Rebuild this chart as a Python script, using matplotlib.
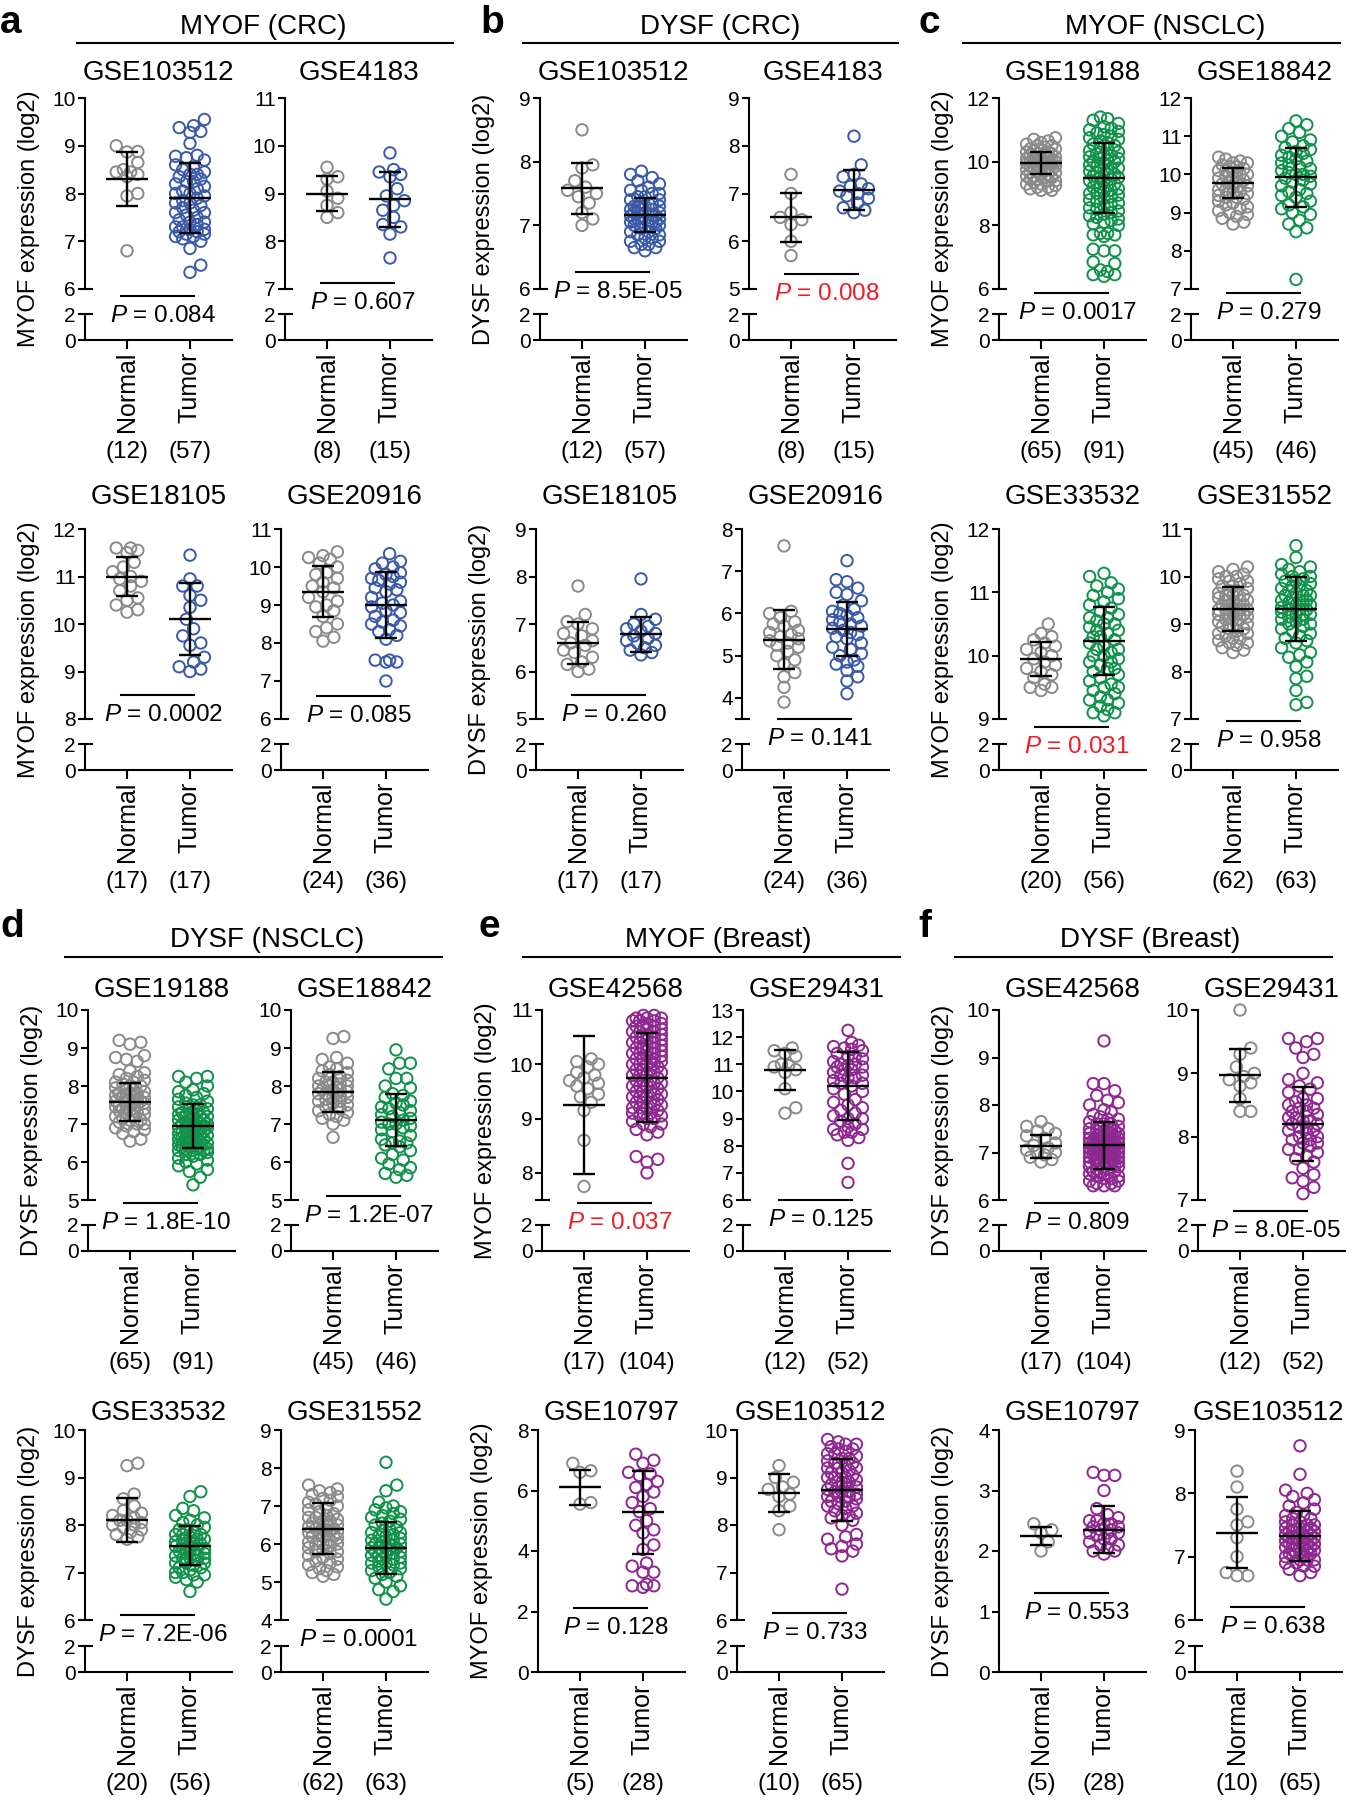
import numpy as np
import matplotlib.pyplot as plt
from matplotlib.lines import Line2D
from matplotlib.transforms import blended_transform_factory as blend

plt.rcParams['font.family'] = ['Liberation Sans', 'DejaVu Sans']
plt.rcParams['mathtext.fontset'] = 'custom'
plt.rcParams['mathtext.it'] = 'Liberation Sans:italic'
plt.rcParams['mathtext.rm'] = 'Liberation Sans'
plt.rcParams['ytick.labelsize'] = 15
plt.rcParams['xtick.labelsize'] = 18

# ---------------- data ----------------
panel_letters = ['a', 'b', 'c', 'd', 'e', 'f']
panel_titles = ['MYOF (CRC)', 'DYSF (CRC)', 'MYOF (NSCLC)',
                'DYSF (NSCLC)', 'MYOF (Breast)', 'DYSF (Breast)']
panel_ylabels = ['MYOF expression (log2)', 'DYSF expression (log2)', 'MYOF expression (log2)',
                 'DYSF expression (log2)', 'MYOF expression (log2)', 'DYSF expression (log2)']

datasets = ['GSE103512', 'GSE4183', 'GSE18105', 'GSE20916',
            'GSE103512', 'GSE4183', 'GSE18105', 'GSE20916',
            'GSE19188', 'GSE18842', 'GSE33532', 'GSE31552',
            'GSE19188', 'GSE18842', 'GSE33532', 'GSE31552',
            'GSE42568', 'GSE29431', 'GSE10797', 'GSE103512',
            'GSE42568', 'GSE29431', 'GSE10797', 'GSE103512']

n_normal = [12, 8, 17, 24, 12, 8, 17, 24, 65, 45, 20, 62, 65, 45, 20, 62, 17, 12, 5, 10, 17, 12, 5, 10]
n_tumor = [57, 15, 17, 36, 57, 15, 17, 36, 91, 46, 56, 63, 91, 46, 56, 63, 104, 52, 28, 65, 104, 52, 28, 65]

p_values = ['0.084', '0.607', '0.0002', '0.085',
            '8.5E-05', '0.008', '0.260', '0.141',
            '0.0017', '0.279', '0.031', '0.958',
            '1.8E-10', '1.2E-07', '7.2E-06', '0.0001',
            '0.037', '0.125', '0.128', '0.733',
            '0.809', '8.0E-05', '0.553', '0.638']
p_significant = [False, False, False, False, False, True, False, False,
                 False, False, True, False, False, False, False, False,
                 True, False, False, False, False, False, False, False]

# axis ranges (lower bound, upper bound, tick step); lower bound 0 means no break
y_lo = [6, 7, 8, 6, 6, 5, 5, 3.5, 6, 7, 9, 7, 5, 5, 6, 4, 7.5, 6, 0, 6, 6, 7, 0, 6]
y_hi = [10, 11, 12, 11, 9, 9, 9, 8, 12, 12, 12, 11, 10, 10, 10, 9, 11, 13, 8, 10, 10, 10, 4, 9]
y_step = [1, 1, 1, 1, 1, 1, 1, 1, 2, 1, 1, 1, 1, 1, 1, 1, 1, 1, 2, 1, 1, 1, 1, 1]

mean_normal = [8.3, 9.0, 11.0, 9.35, 7.58, 6.5, 6.6, 5.38, 9.95, 9.78, 9.95, 9.32,
               7.58, 7.85, 8.1, 6.4, 9.25, 10.8, 6.1, 8.67, 7.13, 8.97, 2.25, 7.38]
sd_normal = [0.565, 0.36, 0.415, 0.675, 0.395, 0.52, 0.435, 0.69, 0.35, 0.395, 0.27, 0.465,
             0.5, 0.53, 0.46, 0.67, 1.275, 0.74, 0.575, 0.4, 0.24, 0.415, 0.15, 0.565]
mean_tumor = [7.9, 8.88, 10.1, 9.0, 7.16, 7.08, 6.78, 5.64, 9.5, 9.92, 10.23, 9.32,
              6.95, 7.1, 7.56, 5.9, 9.75, 10.2, 5.28, 8.73, 7.15, 8.2, 2.35, 7.33]
sd_tumor = [0.735, 0.575, 0.76, 0.86, 0.265, 0.42, 0.375, 0.64, 1.1, 0.775, 0.54, 0.675,
            0.58, 0.69, 0.41, 0.69, 0.82, 1.24, 1.375, 0.65, 0.5, 0.59, 0.39, 0.395]

a_normal = [
    [9.0, 8.88, 8.87, 8.65, 8.5, 8.45, 8.45, 8.4, 8.35, 8.0, 7.95, 6.8],
    [9.55, 9.35, 9.3, 9.05, 8.9, 8.75, 8.6, 8.5],
    [11.6, 11.6, 11.55, 11.5, 11.3, 11.2, 11.1, 11.0, 10.95, 10.9, 10.8, 10.7, 10.55, 10.5, 10.4, 10.3, 10.25],
    [10.4, 10.3, 10.25, 10.2, 10.1, 10.0, 9.85, 9.8, 9.7, 9.6, 9.5, 9.45, 9.35, 9.2, 9.1, 9.0, 8.95, 8.85,
     8.7, 8.5, 8.4, 8.3, 8.15, 8.05],
]
a_tumor = [
    [9.55, 9.42, 9.38, 9.3, 9.28, 9.05, 8.8, 8.78, 8.75, 8.7, 8.6, 8.55, 8.5, 8.45, 8.4, 8.4, 8.35, 8.3,
     8.25, 8.25, 8.2, 8.15, 8.1, 8.05, 8.0, 8.0, 7.95, 7.9, 7.85, 7.8, 7.8, 7.75, 7.7, 7.65, 7.6, 7.6, 7.55,
     7.5, 7.45, 7.4, 7.4, 7.35, 7.3, 7.3, 7.25, 7.25, 7.2, 7.2, 7.15, 7.15, 7.1, 7.1, 7.05, 7.0, 6.85, 6.5, 6.35],
    [9.85, 9.5, 9.45, 9.4, 9.35, 9.1, 8.95, 8.85, 8.75, 8.65, 8.5, 8.35, 8.3, 8.15, 7.65],
    [11.45, 10.95, 10.8, 10.8, 10.6, 10.5, 10.35, 10.1, 9.9, 9.75, 9.6, 9.55, 9.3, 9.2, 9.1, 9.05, 9.0],
    [10.35, 10.15, 10.1, 10.0, 9.95, 9.85, 9.8, 9.75, 9.7, 9.65, 9.6, 9.55, 9.45, 9.4, 9.35, 9.2, 9.1, 9.05,
     9.0, 8.95, 8.85, 8.8, 8.7, 8.6, 8.55, 8.5, 8.45, 8.35, 8.3, 8.2, 8.1, 7.55, 7.55, 7.5, 7.5, 7.0],
]
b_normal = [
    [8.5, 7.95, 7.9, 7.7, 7.6, 7.55, 7.5, 7.45, 7.35, 7.2, 7.1, 7.0],
    [7.4, 7.0, 6.6, 6.5, 6.45, 6.35, 6.0, 5.7],
    [7.8, 7.2, 7.05, 7.0, 6.9, 6.8, 6.75, 6.65, 6.6, 6.55, 6.45, 6.4, 6.3, 6.2, 6.15, 6.05, 6.0],
    [7.6, 6.05, 6.0, 5.9, 5.8, 5.75, 5.7, 5.6, 5.55, 5.5, 5.45, 5.4, 5.35, 5.3, 5.25, 5.2, 5.1, 5.0, 4.9,
     4.8, 4.6, 4.5, 4.25, 3.9],
]
b_tumor = [
    [7.85, 7.8, 7.75, 7.7, 7.65, 7.6, 7.55, 7.55, 7.5, 7.5, 7.45, 7.45, 7.4, 7.4, 7.35, 7.35, 7.3, 7.3, 7.3,
     7.3, 7.25, 7.25, 7.25, 7.2, 7.2, 7.2, 7.2, 7.15, 7.15, 7.15, 7.15, 7.1, 7.1, 7.1, 7.1, 7.05, 7.05, 7.05,
     7.05, 7.0, 7.0, 7.0, 6.95, 6.95, 6.9, 6.9, 6.85, 6.85, 6.8, 6.8, 6.75, 6.75, 6.7, 6.7, 6.65, 6.65, 6.6],
    [8.2, 7.6, 7.4, 7.35, 7.2, 7.15, 7.1, 7.05, 7.0, 6.95, 6.9, 6.8, 6.7, 6.65, 6.6],
    [7.95, 7.2, 7.1, 7.0, 6.95, 6.9, 6.85, 6.8, 6.75, 6.7, 6.65, 6.6, 6.55, 6.5, 6.45, 6.4, 6.35],
    [7.25, 6.8, 6.75, 6.6, 6.5, 6.45, 6.3, 6.2, 6.1, 6.05, 6.0, 5.95, 5.9, 5.85, 5.8, 5.75, 5.7, 5.65, 5.6,
     5.55, 5.5, 5.45, 5.4, 5.3, 5.2, 5.15, 5.05, 5.0, 4.9, 4.85, 4.8, 4.75, 4.65, 4.5, 4.4, 4.1],
]
c_normal = [
    [10.75, 10.7, 10.65, 10.6, 10.55, 10.5, 10.5, 10.45, 10.4, 10.4, 10.35, 10.35, 10.3, 10.3, 10.25, 10.25,
     10.2, 10.2, 10.15, 10.15, 10.1, 10.1, 10.1, 10.05, 10.05, 10.0, 10.0, 10.0, 10.0, 9.95, 9.95, 9.95, 9.9,
     9.9, 9.9, 9.85, 9.85, 9.8, 9.8, 9.8, 9.75, 9.75, 9.7, 9.7, 9.65, 9.65, 9.6, 9.6, 9.55, 9.55, 9.5, 9.5,
     9.45, 9.45, 9.4, 9.4, 9.35, 9.3, 9.3, 9.25, 9.2, 9.2, 9.15, 9.1, 9.1],
    [10.45, 10.4, 10.35, 10.3, 10.3, 10.25, 10.2, 10.2, 10.15, 10.1, 10.1, 10.05, 10.0, 10.0, 9.95, 9.9, 9.9,
     9.85, 9.8, 9.8, 9.75, 9.7, 9.7, 9.65, 9.6, 9.6, 9.55, 9.5, 9.5, 9.45, 9.4, 9.4, 9.35, 9.3, 9.25, 9.2,
     9.15, 9.1, 9.05, 9.0, 8.95, 8.9, 8.85, 8.75, 8.7],
    [10.5, 10.35, 10.3, 10.25, 10.2, 10.15, 10.1, 10.05, 10.0, 9.95, 9.9, 9.85, 9.8, 9.75, 9.7, 9.65, 9.55,
     9.5, 9.5, 9.45],
    [10.2, 10.15, 10.1, 10.05, 10.0, 10.0, 9.95, 9.9, 9.9, 9.85, 9.8, 9.8, 9.75, 9.7, 9.7, 9.65, 9.6, 9.6,
     9.6, 9.55, 9.5, 9.5, 9.5, 9.45, 9.4, 9.4, 9.4, 9.4, 9.35, 9.3, 9.3, 9.3, 9.3, 9.25, 9.2, 9.2, 9.2, 9.2,
     9.15, 9.1, 9.1, 9.1, 9.05, 9.0, 9.0, 9.0, 8.95, 8.9, 8.9, 8.85, 8.8, 8.8, 8.75, 8.7, 8.7, 8.65, 8.6,
     8.6, 8.55, 8.5, 8.45, 8.4],
]
c_tumor = [
    [11.4, 11.35, 11.3, 11.2, 11.1, 11.05, 11.0, 10.95, 10.9, 10.85, 10.8, 10.75, 10.7, 10.65, 10.6, 10.55,
     10.5, 10.45, 10.4, 10.35, 10.3, 10.25, 10.2, 10.2, 10.15, 10.1, 10.1, 10.05, 10.0, 10.0, 9.95, 9.9,
     9.85, 9.8, 9.8, 9.75, 9.7, 9.65, 9.6, 9.6, 9.55, 9.5, 9.5, 9.45, 9.4, 9.4, 9.35, 9.3, 9.25, 9.2, 9.2,
     9.15, 9.1, 9.05, 9.0, 9.0, 8.95, 8.9, 8.85, 8.8, 8.75, 8.7, 8.65, 8.6, 8.55, 8.5, 8.45, 8.4, 8.35, 8.3,
     8.25, 8.2, 8.15, 8.1, 8.05, 8.0, 7.75, 7.75, 7.7, 7.7, 7.65, 7.25, 7.2, 7.2, 6.85, 6.8, 6.6, 6.55,
     6.45, 6.45, 6.4],
    [11.4, 11.3, 11.2, 11.1, 11.0, 10.9, 10.85, 10.75, 10.7, 10.65, 10.6, 10.55, 10.5, 10.45, 10.4, 10.35,
     10.3, 10.25, 10.2, 10.15, 10.1, 10.05, 10.0, 10.0, 9.95, 9.9, 9.85, 9.8, 9.75, 9.7, 9.6, 9.55, 9.5,
     9.45, 9.4, 9.3, 9.2, 9.15, 9.1, 9.0, 8.95, 8.8, 8.7, 8.6, 8.5, 7.25],
    [11.3, 11.25, 11.15, 11.1, 11.05, 11.0, 10.95, 10.9, 10.85, 10.8, 10.75, 10.7, 10.65, 10.6, 10.6, 10.55,
     10.5, 10.5, 10.45, 10.4, 10.4, 10.35, 10.3, 10.3, 10.25, 10.2, 10.15, 10.1, 10.1, 10.05, 10.0, 10.0,
     9.95, 9.9, 9.9, 9.85, 9.8, 9.8, 9.75, 9.7, 9.65, 9.6, 9.55, 9.5, 9.5, 9.45, 9.4, 9.35, 9.3, 9.3, 9.25,
     9.2, 9.15, 9.1, 9.1, 9.05],
    [10.65, 10.4, 10.25, 10.2, 10.15, 10.1, 10.05, 10.0, 10.0, 9.95, 9.9, 9.9, 9.85, 9.8, 9.8, 9.75, 9.7,
     9.7, 9.65, 9.6, 9.6, 9.6, 9.55, 9.5, 9.5, 9.5, 9.45, 9.4, 9.4, 9.4, 9.35, 9.3, 9.3, 9.3, 9.25, 9.2,
     9.2, 9.2, 9.15, 9.1, 9.1, 9.05, 9.0, 9.0, 8.95, 8.9, 8.85, 8.8, 8.75, 8.7, 8.65, 8.6, 8.5, 8.4, 8.35,
     8.3, 8.2, 8.1, 7.9, 7.85, 7.6, 7.35, 7.3],
]
d_normal = [
    [9.2, 9.15, 9.1, 8.8, 8.75, 8.7, 8.65, 8.4, 8.35, 8.3, 8.25, 8.2, 8.15, 8.1, 8.1, 8.05, 8.0, 8.0, 7.95,
     7.9, 7.9, 7.85, 7.8, 7.8, 7.8, 7.75, 7.75, 7.7, 7.7, 7.7, 7.65, 7.65, 7.6, 7.6, 7.6, 7.55, 7.55, 7.5,
     7.5, 7.5, 7.45, 7.45, 7.4, 7.4, 7.4, 7.35, 7.35, 7.3, 7.3, 7.25, 7.2, 7.2, 7.15, 7.1, 7.1, 7.05, 7.0,
     7.0, 6.95, 6.9, 6.85, 6.8, 6.75, 6.6, 6.55],
    [9.3, 9.25, 8.75, 8.7, 8.6, 8.5, 8.45, 8.4, 8.35, 8.3, 8.25, 8.2, 8.15, 8.1, 8.1, 8.05, 8.0, 8.0, 8.0,
     7.95, 7.9, 7.9, 7.9, 7.85, 7.8, 7.8, 7.8, 7.75, 7.7, 7.7, 7.65, 7.6, 7.6, 7.55, 7.5, 7.45, 7.4, 7.35,
     7.3, 7.25, 7.2, 7.15, 7.1, 7.0, 6.65],
    [9.3, 9.25, 8.65, 8.55, 8.4, 8.3, 8.25, 8.2, 8.15, 8.1, 8.1, 8.05, 8.0, 8.0, 7.95, 7.9, 7.85, 7.8, 7.75, 7.7],
    [7.55, 7.45, 7.4, 7.35, 7.3, 7.25, 7.2, 7.15, 7.1, 7.05, 7.0, 6.95, 6.9, 6.85, 6.8, 6.75, 6.7, 6.7,
     6.65, 6.6, 6.6, 6.55, 6.5, 6.5, 6.5, 6.45, 6.4, 6.4, 6.4, 6.35, 6.3, 6.3, 6.3, 6.25, 6.2, 6.2, 6.2,
     6.15, 6.1, 6.1, 6.05, 6.0, 6.0, 6.0, 5.95, 5.9, 5.85, 5.8, 5.8, 5.75, 5.7, 5.65, 5.6, 5.55, 5.5, 5.45,
     5.4, 5.35, 5.3, 5.25, 5.2, 5.15],
]
d_tumor = [
    [8.25, 8.25, 8.2, 8.1, 8.0, 7.9, 7.85, 7.8, 7.75, 7.7, 7.65, 7.6, 7.55, 7.5, 7.5, 7.45, 7.4, 7.4, 7.35,
     7.3, 7.3, 7.3, 7.25, 7.2, 7.2, 7.2, 7.15, 7.1, 7.1, 7.1, 7.1, 7.05, 7.0, 7.0, 7.0, 7.0, 6.95, 6.95,
     6.9, 6.9, 6.9, 6.9, 6.85, 6.85, 6.8, 6.8, 6.8, 6.75, 6.75, 6.7, 6.7, 6.7, 6.65, 6.65, 6.6, 6.6, 6.6,
     6.6, 6.55, 6.55, 6.5, 6.5, 6.5, 6.5, 6.45, 6.45, 6.45, 6.4, 6.4, 6.4, 6.35, 6.35, 6.35, 6.3, 6.3, 6.3,
     6.25, 6.2, 6.2, 6.15, 6.1, 6.05, 6.0, 5.95, 5.9, 5.8, 5.75, 5.6, 5.4, 7.0, 6.8],
    [8.95, 8.6, 8.6, 8.45, 8.2, 8.2, 8.0, 7.95, 7.8, 7.75, 7.7, 7.6, 7.55, 7.5, 7.45, 7.4, 7.35, 7.3, 7.25,
     7.2, 7.15, 7.1, 7.05, 7.0, 7.0, 6.95, 6.9, 6.85, 6.8, 6.7, 6.6, 6.55, 6.5, 6.5, 6.45, 6.4, 6.3, 6.2,
     6.1, 6.05, 5.95, 5.85, 5.8, 5.7, 5.65, 5.6],
    [8.7, 8.6, 8.35, 8.3, 8.2, 8.15, 8.1, 8.05, 8.0, 7.95, 7.9, 7.9, 7.85, 7.8, 7.8, 7.8, 7.75, 7.7, 7.7,
     7.7, 7.65, 7.65, 7.6, 7.6, 7.6, 7.55, 7.55, 7.5, 7.5, 7.5, 7.45, 7.45, 7.4, 7.4, 7.4, 7.35, 7.35, 7.3,
     7.3, 7.3, 7.25, 7.2, 7.2, 7.2, 7.15, 7.1, 7.1, 7.05, 7.0, 7.0, 6.95, 6.95, 6.9, 6.85, 6.8, 6.6],
    [8.15, 7.55, 7.4, 7.1, 7.0, 6.95, 6.9, 6.85, 6.8, 6.75, 6.7, 6.65, 6.6, 6.55, 6.5, 6.45, 6.4, 6.35,
     6.3, 6.3, 6.25, 6.2, 6.2, 6.15, 6.1, 6.1, 6.05, 6.0, 6.0, 6.0, 5.95, 5.95, 5.9, 5.9, 5.9, 5.85, 5.8,
     5.8, 5.8, 5.75, 5.7, 5.7, 5.7, 5.65, 5.6, 5.6, 5.55, 5.5, 5.5, 5.5, 5.45, 5.4, 5.35, 5.3, 5.25, 5.2,
     5.15, 5.1, 5.0, 4.9, 4.8, 4.75, 4.55],
]
e_normal = [
    [10.1, 10.05, 10.0, 9.95, 9.85, 9.8, 9.75, 9.7, 9.65, 9.6, 9.55, 9.45, 9.4, 9.3, 9.15, 8.6, 7.75],
    [11.6, 11.5, 11.4, 11.3, 11.0, 10.95, 10.9, 10.8, 10.7, 10.1, 9.4, 9.2],
    [6.9, 6.65, 6.6, 5.6, 5.55],
    [9.25, 9.0, 8.9, 8.8, 8.75, 8.65, 8.6, 8.4, 8.3, 7.9],
]
e_tumor = [
    [10.9, 10.9, 10.85, 10.85, 10.85, 10.8, 10.8, 10.8, 10.75, 10.75, 10.7, 10.7, 10.7, 10.65, 10.65, 10.6,
     10.6, 10.6, 10.55, 10.55, 10.5, 10.5, 10.5, 10.45, 10.45, 10.4, 10.4, 10.4, 10.35, 10.35, 10.3, 10.3,
     10.3, 10.25, 10.25, 10.2, 10.2, 10.2, 10.15, 10.15, 10.1, 10.1, 10.1, 10.05, 10.05, 10.0, 10.0, 10.0,
     10.0, 9.95, 9.9, 9.9, 9.9, 9.85, 9.85, 9.8, 9.8, 9.8, 9.75, 9.7, 9.7, 9.7, 9.65, 9.65, 9.6, 9.6, 9.6,
     9.55, 9.5, 9.5, 9.5, 9.45, 9.45, 9.4, 9.4, 9.4, 9.35, 9.3, 9.3, 9.3, 9.25, 9.25, 9.2, 9.2, 9.2, 9.15,
     9.1, 9.1, 9.1, 9.05, 9.05, 9.0, 9.0, 8.95, 8.9, 8.9, 8.85, 8.8, 8.75, 8.7, 8.3, 8.25, 8.2, 8.0],
    [12.25, 11.8, 11.7, 11.65, 11.6, 11.55, 11.5, 11.4, 11.3, 11.3, 11.2, 11.1, 11.0, 11.0, 10.95, 10.9,
     10.9, 10.8, 10.8, 10.7, 10.6, 10.6, 10.5, 10.5, 10.4, 10.3, 10.3, 10.2, 10.1, 10.0, 9.9, 9.7, 9.6,
     9.5, 9.4, 9.3, 9.2, 9.1, 9.0, 9.0, 8.9, 8.8, 8.7, 8.6, 8.6, 8.5, 8.5, 8.4, 8.3, 8.2, 7.35, 6.65],
    [7.2, 7.0, 6.9, 6.6, 6.55, 6.5, 6.3, 6.2, 6.1, 5.95, 5.8, 5.6, 5.4, 5.3, 5.0, 4.85, 4.7, 4.6, 4.2,
     4.05, 3.6, 3.5, 3.3, 3.3, 2.9, 2.85, 2.85, 2.8],
    [9.8, 9.75, 9.7, 9.7, 9.65, 9.6, 9.6, 9.55, 9.5, 9.5, 9.45, 9.4, 9.4, 9.35, 9.3, 9.3, 9.25, 9.2, 9.2,
     9.2, 9.15, 9.1, 9.1, 9.05, 9.0, 9.0, 8.95, 8.9, 8.9, 8.85, 8.8, 8.8, 8.8, 8.75, 8.7, 8.7, 8.7, 8.65,
     8.6, 8.6, 8.6, 8.55, 8.5, 8.5, 8.45, 8.4, 8.4, 8.35, 8.3, 8.25, 8.2, 8.2, 8.15, 8.1, 8.0, 7.8, 7.75,
     7.7, 7.6, 7.55, 7.5, 7.45, 7.35, 6.65, 9.0],
]
f_normal = [
    [7.65, 7.55, 7.5, 7.45, 7.4, 7.35, 7.3, 7.2, 7.15, 7.1, 7.05, 7.0, 7.0, 6.95, 6.9, 6.85, 6.8],
    [10.0, 9.4, 9.3, 9.1, 9.0, 8.95, 8.9, 8.85, 8.8, 8.6, 8.4, 8.4],
    [2.45, 2.35, 2.3, 2.15, 2.0],
    [8.35, 8.1, 7.75, 7.55, 7.5, 7.3, 7.0, 6.75, 6.7, 6.7],
]
f_tumor = [
    [9.35, 8.45, 8.45, 8.3, 8.2, 8.1, 8.05, 8.0, 7.9, 7.85, 7.8, 7.75, 7.7, 7.7, 7.65, 7.6, 7.6, 7.6, 7.55,
     7.5, 7.5, 7.5, 7.45, 7.45, 7.45, 7.4, 7.4, 7.4, 7.4, 7.35, 7.35, 7.35, 7.3, 7.3, 7.3, 7.3, 7.3, 7.25,
     7.25, 7.25, 7.25, 7.2, 7.2, 7.2, 7.2, 7.2, 7.15, 7.15, 7.15, 7.15, 7.1, 7.1, 7.1, 7.1, 7.1, 7.05, 7.05,
     7.05, 7.05, 7.0, 7.0, 7.0, 7.0, 7.0, 6.95, 6.95, 6.95, 6.95, 6.9, 6.9, 6.9, 6.9, 6.85, 6.85, 6.85,
     6.8, 6.8, 6.8, 6.75, 6.75, 6.75, 6.7, 6.7, 6.7, 6.65, 6.65, 6.6, 6.6, 6.6, 6.55, 6.55, 6.5, 6.5, 6.45,
     6.45, 6.4, 6.4, 6.35, 6.35, 6.3, 6.3, 6.3, 7.0, 7.1],
    [9.55, 9.55, 9.5, 9.4, 9.3, 9.25, 9.0, 8.9, 8.85, 8.8, 8.75, 8.7, 8.6, 8.6, 8.55, 8.5, 8.5, 8.45, 8.45,
     8.4, 8.4, 8.35, 8.3, 8.3, 8.25, 8.25, 8.2, 8.2, 8.15, 8.15, 8.1, 8.1, 8.05, 8.0, 8.0, 7.95, 7.95, 7.9,
     7.9, 7.85, 7.8, 7.8, 7.75, 7.7, 7.65, 7.6, 7.5, 7.4, 7.35, 7.3, 7.2, 7.1],
    [3.3, 3.25, 3.25, 3.0, 2.7, 2.6, 2.55, 2.5, 2.5, 2.45, 2.45, 2.4, 2.4, 2.35, 2.35, 2.3, 2.3, 2.3, 2.25,
     2.2, 2.2, 2.15, 2.1, 2.1, 2.05, 2.0, 2.0, 1.95],
    [8.75, 8.3, 8.05, 8.0, 7.95, 7.9, 7.85, 7.8, 7.75, 7.7, 7.65, 7.65, 7.6, 7.6, 7.55, 7.55, 7.5, 7.5,
     7.5, 7.45, 7.45, 7.45, 7.4, 7.4, 7.4, 7.4, 7.35, 7.35, 7.35, 7.3, 7.3, 7.3, 7.3, 7.3, 7.25, 7.25, 7.25,
     7.2, 7.2, 7.2, 7.2, 7.15, 7.15, 7.15, 7.1, 7.1, 7.1, 7.05, 7.05, 7.05, 7.0, 7.0, 7.0, 6.95, 6.95, 6.95,
     6.9, 6.9, 6.85, 6.85, 6.8, 6.75, 6.7, 7.3, 7.2],
]
normal_values = a_normal + b_normal + c_normal + d_normal + e_normal + f_normal
tumor_values = a_tumor + b_tumor + c_tumor + d_tumor + e_tumor + f_tumor

# ---------------- layout (pixels) ----------------
W, H = 1346, 1800
GRAY = '#8a8a8a'
TUMOR_COLORS = ['#3a5aa8', '#3a5aa8', '#11924a', '#11924a', '#8e278f', '#8e278f']
RED = '#ee1c24'

SPINE_X = [[85, 285, 540, 749, 999, 1191],
           [85, 281, 536, 742, 999, 1191],
           [88, 291, 542, 743, 999, 1198],
           [85, 281, 538, 737, 999, 1195]]
ROW_TOP = [98, 529, 1010, 1430]
ROW_BRK = [289, 719, 1200, 1620]
ROW_ZERO = [340, 770, 1251, 1672]
TITLE_BASE = [80, 504, 997, 1420]
AX_W = 147
XLIM = (-0.667, 1.667)
PX_PER_X = 63.0
P_LINE_OFF = [7, -6, -24, -23, -17, -15, -24, 0, 4, 4, 8, 2,
              3, -4, -5, 0, 3, 0, -12, -7, 3, 11, -27, -13]
HDR_X = [263, 720, 1165, 267, 718, 1150]
HDR_LINE = [(77, 453), (523, 898), (963, 1340), (65, 442), (523, 900), (955, 1332)]
HDR_BASE = [34, 947]
HDR_LINE_Y = [43, 957]
LET_X = [0, 480, 918, 0, 478, 918]
LET_BASE = [33, 937]
TICK_FS = 15


def fx(px):
    return px / W


def fy(py):
    return 1 - py / H


def swarm(ypx, diam=11.5, maxhalf=14.5, step=3.6):
    cands = [0.0]
    k = 1
    while k * step <= maxhalf + 1e-6:
        cands += [k * step, -k * step]
        k += 1
    px, py = [], []
    for y in ypx:
        best, bestd = 0.0, -1.0
        for c in cands:
            d = 1e9
            for xx, yy in zip(px, py):
                if abs(yy - y) < diam:
                    d = min(d, np.hypot(c - xx, y - yy))
            if d >= diam * 0.9:
                best = c
                break
            if d > bestd:
                best, bestd = c, d
        px.append(best)
        py.append(y)
    return np.array(px)


fig = plt.figure(figsize=(W / 100, H / 100), dpi=100)


def style_axis(a, lo, hi, ticks, labels):
    a.set_xlim(*XLIM)
    a.set_ylim(lo, hi)
    a.set_yticks(ticks)
    a.set_yticklabels(labels, fontsize=TICK_FS)
    a.patch.set_visible(False)
    for s in ['top', 'right']:
        a.spines[s].set_visible(False)
    a.spines['left'].set_linewidth(1.5)
    a.spines['bottom'].set_linewidth(1.5)
    a.tick_params(axis='y', direction='out', length=5, width=1.5, labelsize=TICK_FS, pad=1.5)


def stub(a, y):
    a.plot([XLIM[0], XLIM[0] + 8 / PX_PER_X], [y, y], color='k', lw=1.5,
           solid_capstyle='butt', clip_on=False)


for k in range(24):
    p, j = divmod(k, 4)
    row = (p // 3) * 2 + j // 2
    col = (p % 3) * 2 + j % 2
    x0 = SPINE_X[row][col]
    top, brk, zero = ROW_TOP[row], ROW_BRK[row], ROW_ZERO[row]
    lo, hi = y_lo[k], y_hi[k]
    single = lo == 0

    ticks = list(np.arange(np.ceil(lo), hi + 1e-9, y_step[k]))
    labels = [str(int(t)) for t in ticks]
    if lo not in ticks:
        ticks = [lo] + ticks
        labels = [''] + labels

    if single:
        ax = fig.add_axes([fx(x0), fy(zero), AX_W / W, (zero - top) / H])
        axl = ax
        ppu = (zero - top) / hi
        style_axis(ax, lo, hi, ticks, labels)
    else:
        ax = fig.add_axes([fx(x0), fy(brk), AX_W / W, (brk - top) / H])
        axl = fig.add_axes([fx(x0), fy(zero), AX_W / W, 26 / H])
        ppu = (brk - top) / (hi - lo)
        style_axis(ax, lo, hi, ticks, labels)
        ax.spines['bottom'].set_visible(False)
        ax.set_xticks([])
        stub(ax, lo)
        style_axis(axl, 0, 2, [0, 2], ['0', '2'])
        stub(axl, 2)

    axl.set_xticks([0, 1])
    axl.set_xticklabels(['Normal', 'Tumor'], rotation=90, fontsize=18)
    axl.tick_params(axis='x', direction='out', length=6.5, width=1.5, pad=2)

    # points, mean and SD
    groups = [(normal_values[k], GRAY, mean_normal[k], sd_normal[k]),
              (tumor_values[k], TUMOR_COLORS[p], mean_tumor[k], sd_tumor[k])]
    for gi, (vals, color, m, sd) in enumerate(groups):
        v = np.sort(np.array(vals, dtype=float))
        offs = swarm(v * ppu)
        ax.scatter(gi + offs / PX_PER_X, v, s=68, facecolors='none', edgecolors=color,
                   linewidths=1.4, clip_on=False, zorder=2)
        kw = dict(color='k', lw=1.7, zorder=3, clip_on=False, solid_capstyle='butt')
        ax.plot([gi - 0.33, gi + 0.33], [m, m], **kw)
        ax.plot([gi, gi], [m - sd, m + sd], **kw)
        ax.plot([gi - 0.18, gi + 0.18], [m + sd, m + sd], **kw)
        ax.plot([gi - 0.18, gi + 0.18], [m - sd, m - sd], **kw)

    # P value bar and text
    tr = blend(ax.transData, fig.transFigure)
    ly = brk + P_LINE_OFF[k]
    ax.plot([-0.1, 1.07], [fy(ly), fy(ly)], transform=tr, color='k', lw=1.5, clip_on=False)
    ax.text(0.57, fy(ly + 20), r'$P$ = ' + p_values[k], transform=tr, ha='center', va='center',
            fontsize=17.5, color=RED if p_significant[k] else 'k')

    # group sizes
    trl = blend(axl.transData, fig.transFigure)
    axl.text(0, fy(zero + 112), f'({n_normal[k]})', transform=trl, ha='center', va='center', fontsize=17.5)
    axl.text(1, fy(zero + 112), f'({n_tumor[k]})', transform=trl, ha='center', va='center', fontsize=17.5)

    # dataset title and y label
    fig.text(fx(x0 + AX_W / 2), fy(TITLE_BASE[row]), datasets[k], ha='center', va='baseline', fontsize=20)
    if j % 2 == 0:
        fig.text(fx(x0 - 56), fy((top + zero) / 2), panel_ylabels[p], rotation=90,
                 ha='center', va='center', fontsize=17)

# panel headers and letters
for p in range(6):
    r = p // 3
    fig.text(fx(HDR_X[p]), fy(HDR_BASE[r]), panel_titles[p], ha='center', va='baseline', fontsize=20)
    x1, x2 = HDR_LINE[p]
    fig.add_artist(Line2D([fx(x1), fx(x2)], [fy(HDR_LINE_Y[r])] * 2, color='k', lw=1.5))
    fig.text(fx(LET_X[p]), fy(LET_BASE[r]), panel_letters[p], ha='left', va='baseline',
             fontsize=28, fontweight='bold')

fig.savefig('out.png', dpi=100)
